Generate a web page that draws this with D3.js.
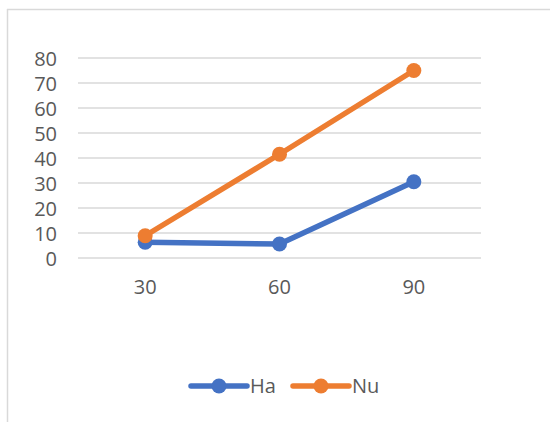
<!DOCTYPE html>
<html>
<head>
<meta charset="utf-8">
<script src="https://cdn.jsdelivr.net/npm/d3@7"></script>
<style>
  html, body { margin: 0; padding: 0; background: #fff; }
  svg { display: block; }
  text { font-family: "Open Sans", "Noto Sans", sans-serif; fill: #595959; }
</style>
</head>
<body>
<svg id="chart" width="550" height="422"></svg>
<script>
// Data
const categories = ["30", "60", "90"];
const haValues = [6.3, 5.6, 30.5];
const nuValues = [8.9, 41.5, 75];
const yTicks = [0, 10, 20, 30, 40, 50, 60, 70, 80];

const series = [
  { name: "Ha", values: haValues, color: "#4472C4" },
  { name: "Nu", values: nuValues, color: "#ED7D31" }
];

const fontSize = 20;
const svg = d3.select("#chart");

// Chart frame (top and left edges)
svg.append("line").attr("x1", 7).attr("x2", 550).attr("y1", 9.5).attr("y2", 9.5)
  .attr("stroke", "#d9d9d9").attr("stroke-width", 1.5);
svg.append("line").attr("x1", 7.5).attr("x2", 7.5).attr("y1", 9).attr("y2", 422)
  .attr("stroke", "#d9d9d9").attr("stroke-width", 1.5);

const plot = { left: 78, right: 481, top: 58, bottom: 258 };

const x = d3.scaleBand().domain(categories).range([plot.left, plot.right]);
const y = d3.scaleLinear().domain([0, 80]).range([plot.bottom, plot.top]);

// Gridlines
svg.append("g").selectAll("line").data(yTicks).join("line")
  .attr("x1", plot.left).attr("x2", plot.right)
  .attr("y1", d => y(d)).attr("y2", d => y(d))
  .attr("stroke", "#d9d9d9").attr("stroke-width", 1.3);

// Y axis labels
const yAxis = svg.append("g").attr("transform", `translate(${plot.left - 21},0)`)
  .call(d3.axisLeft(y).tickValues(yTicks).tickSize(0).tickPadding(0));
yAxis.select(".domain").remove();
yAxis.selectAll("text").attr("font-size", fontSize)
  .attr("fill", "#595959").attr("dy", "0.36em");

// X axis labels
const xAxis = svg.append("g").attr("transform", `translate(0,${plot.bottom + 17})`)
  .call(d3.axisBottom(x).tickSize(0).tickPadding(0));
xAxis.select(".domain").remove();
xAxis.selectAll("text").attr("font-size", fontSize)
  .attr("fill", "#595959").attr("dy", "0.95em");

const cx = d => x(d) + x.bandwidth() / 2;
const line = d3.line().x((d, i) => cx(categories[i])).y(d => y(d));

// Series lines and markers
series.forEach(s => {
  const g = svg.append("g");
  g.append("path").datum(s.values).attr("d", line)
    .attr("fill", "none").attr("stroke", s.color).attr("stroke-width", 5.5)
    .attr("stroke-linejoin", "round").attr("stroke-linecap", "round");
  g.selectAll("circle").data(s.values).join("circle")
    .attr("cx", (d, i) => cx(categories[i])).attr("cy", d => y(d))
    .attr("r", 7.5).attr("fill", s.color);
});

// Legend
const legendItems = [
  { s: series[0], x0: 191 },
  { s: series[1], x0: 293 }
];
const ly = 386;
legendItems.forEach(({ s, x0 }) => {
  const g = svg.append("g");
  g.append("line").attr("x1", x0).attr("x2", x0 + 56).attr("y1", ly).attr("y2", ly)
    .attr("stroke", s.color).attr("stroke-width", 5.5).attr("stroke-linecap", "round");
  g.append("circle").attr("cx", x0 + 28).attr("cy", ly).attr("r", 7.5).attr("fill", s.color);
  g.append("text").attr("x", x0 + 59).attr("y", ly).attr("dy", "0.36em")
    .attr("font-size", fontSize).text(s.name);
});
</script>
</body>
</html>
